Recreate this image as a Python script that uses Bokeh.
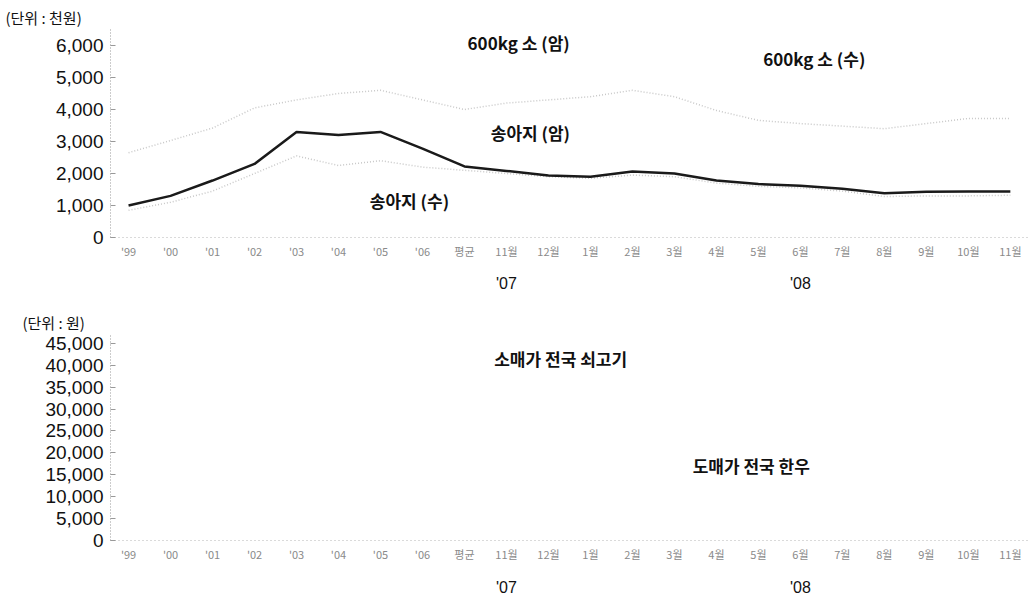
from bokeh.plotting import figure
from bokeh.models import Label, FixedTicker, LinearAxis, NumeralTickFormatter, Range1d, Title
from bokeh.layouts import column
from bokeh.embed import file_html
from bokeh.resources import INLINE

# ---- data ----
categories = ["'99", "'00", "'01", "'02", "'03", "'04", "'05", "'06", "평균",
              "11월", "12월", "1월", "2월", "3월", "4월", "5월", "6월", "7월",
              "8월", "9월", "10월", "11월"]
year_groups = ["'07", "'08"]
year_group_pos = [9, 16]

# 천원
calf_female = [1000, 1300, 1780, 2300, 3300, 3200, 3300, 2780, 2220, 2080, 1940,
               1900, 2060, 2000, 1780, 1670, 1620, 1520, 1380, 1430, 1440, 1440]
calf_male = [850, 1100, 1450, 2000, 2550, 2250, 2400, 2200, 2100, 2000, 1900,
             1850, 1950, 1900, 1700, 1600, 1550, 1450, 1280, 1300, 1300, 1320]
bull_600_male = [2650, 3030, 3420, 4050, 4300, 4500, 4600, 4300, 4000, 4200, 4300,
                 4400, 4600, 4400, 3970, 3660, 3560, 3480, 3400, 3560, 3720, 3720]

top_ticks = [0, 1000, 2000, 3000, 4000, 5000, 6000]
bottom_ticks = [0, 5000, 10000, 15000, 20000, 25000, 30000, 35000, 40000, 45000]

xs = list(range(len(categories)))
KR = "Noto Sans CJK KR"
NUM = "Liberation Sans"


def style(p, yticks, year_standoff):
    p.outline_line_color = None
    p.xgrid.visible = False
    p.ygrid.visible = False
    p.background_fill_color = "white"
    p.border_fill_color = "white"
    xa = p.xaxis[0]
    xa.ticker = FixedTicker(ticks=xs)
    xa.major_label_overrides = {i: c for i, c in enumerate(categories)}
    xa.major_label_text_font = KR
    xa.major_label_text_font_size = "11px"
    xa.major_label_text_color = "#8a8a8a"
    xa.axis_line_color = "#b5b5b5"
    xa.axis_line_dash = "1 3"
    xa.major_tick_line_color = None
    xa.major_tick_out = 0
    xa.major_tick_in = 0
    xa.minor_tick_line_color = None
    xa.minor_tick_out = 0
    xa.major_label_standoff = 5
    ya = p.yaxis[0]
    ya.ticker = FixedTicker(ticks=yticks)
    ya.formatter = NumeralTickFormatter(format="0,0")
    ya.major_label_text_font = NUM
    ya.major_label_text_font_size = "19px"
    ya.major_label_text_color = "#111111"
    ya.axis_line_color = "#999999"
    ya.axis_line_dash = "1 2"
    ya.major_tick_line_color = "#999999"
    ya.major_tick_in = 5
    ya.major_tick_out = 0
    ya.minor_tick_line_color = None
    ya.minor_tick_out = 0
    ya.major_label_standoff = 7
    ax2 = LinearAxis(ticker=FixedTicker(ticks=year_group_pos),
                     major_label_overrides={v: t for v, t in zip(year_group_pos, year_groups)},
                     axis_line_color=None, major_tick_line_color=None,
                     major_tick_out=0, major_tick_in=0,
                     minor_tick_line_color=None, minor_tick_out=0,
                     major_label_text_font=NUM,
                     major_label_text_font_size="16px",
                     major_label_text_color="#111111",
                     major_label_standoff=year_standoff)
    p.add_layout(ax2, "below")


def lab(p, x, y, text):
    p.add_layout(Label(x=x, y=y, text=text, text_align="center", text_baseline="middle",
                       text_font=KR, text_font_size="17px", text_font_style="bold",
                       text_color="#111111"))


def unit_title(p, text, offset):
    p.add_layout(Title(text=text, align="left", offset=offset, standoff=3,
                       text_font=KR, text_font_size="15px", text_font_style="normal",
                       text_color="#111111"), "above")


# ---- top chart (천원) ----
p1 = figure(frame_width=920, frame_height=208, x_range=Range1d(-0.43, 21.48),
            y_range=Range1d(0, 6500), output_backend="svg", toolbar_location=None,
            min_border_left=110, min_border_right=0, min_border_top=29,
            min_border_bottom=63)
style(p1, top_ticks, 13)
unit_title(p1, "(단위 : 천원)", -105)
p1.line(xs, bull_600_male, line_color="#c8c8c8", line_width=1.5, line_dash="1 2")
p1.line(xs, calf_male, line_color="#c8c8c8", line_width=1.5, line_dash="1 2")
p1.line(xs, calf_female, line_color="#1a1a1a", line_width=2.5)

lab(p1, 9.29, 6094, "600kg 소 (암)")
lab(p1, 16.33, 5594, "600kg 소 (수)")
lab(p1, 9.57, 3281, "송아지 (암)")
lab(p1, 6.69, 1156, "송아지 (수)")

# ---- bottom chart (원) ----
p2 = figure(frame_width=920, frame_height=206, x_range=Range1d(-0.43, 21.48),
            y_range=Range1d(0, 47000), output_backend="svg", toolbar_location=None,
            min_border_left=110, min_border_right=0, min_border_top=34,
            min_border_bottom=54)
style(p2, bottom_ticks, 14)
unit_title(p2, "(단위 : 원)", -88)
lab(p2, 10.29, 41570, "소매가 전국 쇠고기")
lab(p2, 14.83, 17130, "도매가 전국 한우")

layout = column(p1, p2, spacing=0)
open("out.html", "w").write(file_html(layout, INLINE))
